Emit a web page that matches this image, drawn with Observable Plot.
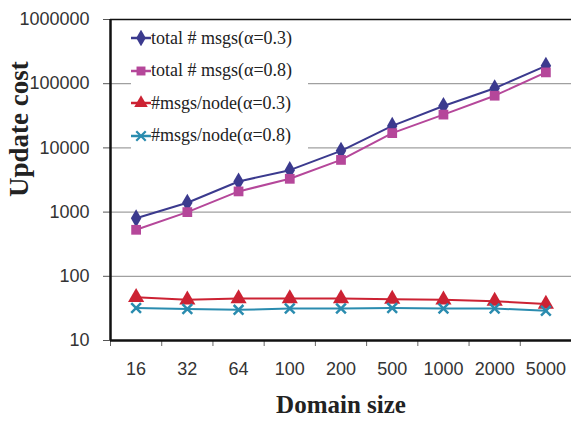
<!DOCTYPE html>
<html><head><meta charset="utf-8">
<script src="https://cdn.jsdelivr.net/npm/d3@7"></script>
<script src="https://cdn.jsdelivr.net/npm/@observablehq/plot@0.6"></script>
<style>
body{margin:0;background:#fff;}
#wrap{position:relative;width:571px;height:422px;}
#wrap svg g[aria-label$="tick label"]{font-size:18px;font-family:"Liberation Sans",Arial,sans-serif;}
#legend{position:absolute;left:131px;top:22px;width:177px;background:#fff;font-family:"Liberation Serif","Times New Roman",serif;font-size:18px;color:#222;}
#legend .it{display:flex;align-items:center;height:32.5px;}
</style></head>
<body><div id="wrap"><div id="legend"></div></div>
<script>
const domainSizes = ["16","32","64","100","200","500","1000","2000","5000"];
const seriesNames = ["total # msgs(α=0.3)","total # msgs(α=0.8)","#msgs/node(α=0.3)","#msgs/node(α=0.8)"];
const totalA03 = [800,1400,3000,4500,9000,22000,45000,85000,190000];
const totalA08 = [530,1000,2100,3300,6500,17000,33000,65000,150000];
const nodeA03 = [47,43,45,45,45,44,43,41,37];
const nodeA08 = [32,31,30,31.5,31.5,32,31.5,31.5,29];
const yTicks = [10,100,1000,10000,100000,1000000];
const colors = ["#3b3a8e","#b5479a","#cc2233","#2a8caf"];
const symbols = ["diamond","square","triangle","asterisk"];

const seriesValues = [totalA03,totalA08,nodeA03,nodeA08];
const data = [];
seriesValues.forEach((vals,s)=>vals.forEach((v,i)=>data.push({i, v, s: seriesNames[s]})));
const idx = domainSizes.map((d,i)=>i);
const bounds = d3.range(domainSizes.length+1).map(i=>i-0.5);
const tickFont = "Liberation Sans, Arial, sans-serif";
const titleFont = "Liberation Serif, Times New Roman, serif";

const marks = [
  Plot.ruleY(yTicks.slice(1,-1), {stroke:"#a0a0a0", strokeWidth:1.2}),
  Plot.ruleY([yTicks[yTicks.length-1]], {stroke:"#111", strokeWidth:1.5}),
  Plot.axisY({ticks: yTicks, tickFormat: d3.format("d"), tickSize: 7, tickPadding: 14, stroke:"#555", fill:"#333", fontSize: 18, fontFamily: tickFont, label: null}),
  Plot.axisX({ticks: bounds, tickFormat: ()=>"", tickSize: 6, stroke:"#666", label: null}),
  Plot.axisX({ticks: idx, tickFormat: i=>domainSizes[i], tickSize: 0, tickPadding: 22, fill:"#333", fontSize: 18, fontFamily: tickFont, label: null}),
  Plot.ruleX([bounds[0]], {stroke:"#111", strokeWidth:2.5}),
  Plot.ruleY([yTicks[0]], {stroke:"#111", strokeWidth:2.5}),
];
seriesNames.forEach((name,s)=>{
  const d = data.filter(r=>r.s===name);
  marks.push(Plot.line(d, {x:"i", y:"v", stroke: colors[s], strokeWidth: 2}));
  if (symbols[s]==="asterisk")
    marks.push(Plot.dot(d, {x:"i", y:"v", symbol:"times", stroke: colors[s], strokeWidth: 2.5, r: 4.5}));
  else
    marks.push(Plot.dot(d, {x:"i", y:"v", symbol: symbols[s], fill: colors[s], r: symbols[s]==="triangle"?6:5.5}));
});

const chart = Plot.plot({
  width: 571, height: 422,
  marginLeft: 110, marginRight: 0, marginTop: 19, marginBottom: 82,
  x: {type:"linear", domain:[bounds[0], bounds[bounds.length-1]], axis: null},
  y: {type:"log", domain:[yTicks[0], yTicks[yTicks.length-1]], axis: null},
  style: {background:"#fff", overflow:"visible", fontSize:"18px", fontFamily: tickFont},
  marks: [
    ...marks,
    Plot.text(["Domain size"], {frameAnchor:"bottom", dy: 72, fontSize: 25, fontWeight:"bold", fontFamily: titleFont, fill:"#222"}),
    Plot.text(["Update cost"], {frameAnchor:"left", dx: -91, dy: 17, rotate: -90, fontSize: 27, fontWeight:"bold", fontFamily: titleFont, fill:"#222"})
  ]
});
document.getElementById("wrap").prepend(chart);

// legend
const lg = d3.select("#legend");
seriesNames.forEach((name,s)=>{
  const it = lg.append("div").attr("class","it");
  const sv = it.append("svg").attr("width",20).attr("height",16);
  sv.append("line").attr("x1",0).attr("x2",20).attr("y1",8).attr("y2",8).attr("stroke",colors[s]).attr("stroke-width",2.5);
  const sym = symbols[s]==="asterisk" ? d3.symbolTimes : (symbols[s]==="diamond"? d3.symbolDiamond : symbols[s]==="square"? d3.symbolSquare : d3.symbolTriangle);
  const p = sv.append("path").attr("transform","translate(10,8)").attr("d", d3.symbol(sym, symbols[s]==="asterisk"?60:80)());
  if (symbols[s]==="asterisk") p.attr("fill","none").attr("stroke",colors[s]).attr("stroke-width",2.2);
  else p.attr("fill",colors[s]);
  it.append("span").text(name);
});
</script></body></html>
